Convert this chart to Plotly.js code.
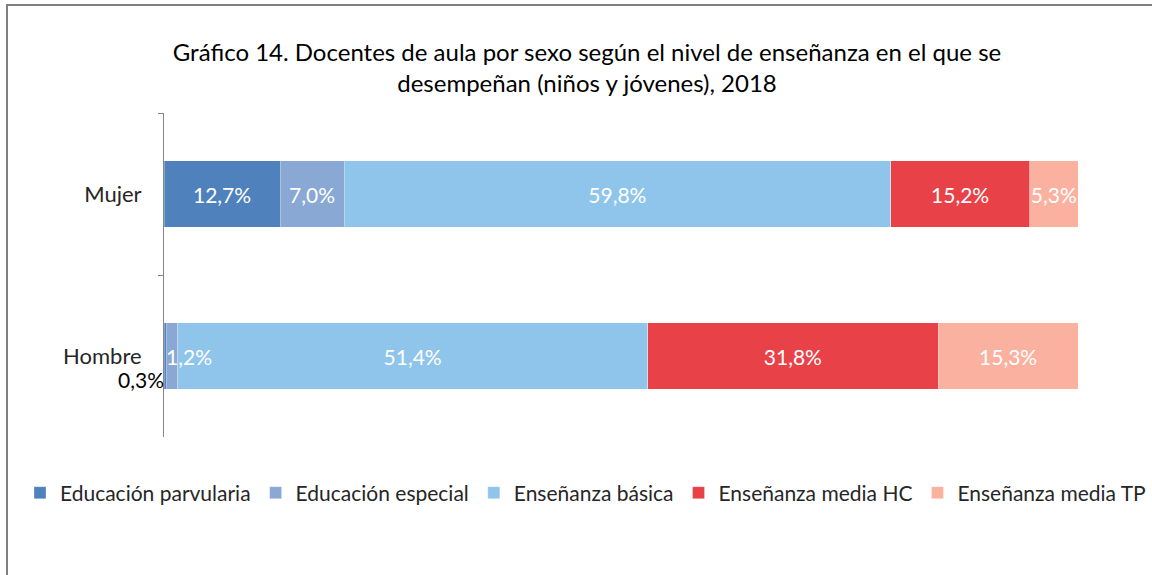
<!DOCTYPE html>
<html><head><meta charset="utf-8">
<script src="https://cdn.plot.ly/plotly-3.0.1.min.js"></script>
<style>html,body{margin:0;padding:0;background:#fff}#chart{width:1152px;height:575px}</style>
</head><body><div id="chart"></div>
<script>
const categories = ['Mujer', 'Hombre'];
const seriesNames = ['Educación parvularia', 'Educación especial', 'Enseñanza básica', 'Enseñanza media HC', 'Enseñanza media TP'];
const parvularia = [12.7, 0.3];
const especial = [7.0, 1.2];
const basica = [59.8, 51.4];
const mediaHC = [15.2, 31.8];
const mediaTP = [5.3, 15.3];
const colors = ['#4F81BD', '#89A8D4', '#8FC5EA', '#E84248', '#FBB19F'];
const seriesValues = [parvularia, especial, basica, mediaHC, mediaTP];

const FONT = 'Lato, "Open Sans", sans-serif';
const fmt = v => v.toFixed(1).replace('.', ',') + '%';
const smallLimit = 2;

const traces = seriesValues.map((vals, i) => ({
  type: 'bar', orientation: 'h', name: seriesNames[i],
  y: categories, x: vals,
  marker: {color: colors[i], line: {width: 0.5, color: 'rgba(255,255,255,0.6)'}},
  text: vals.map(v => v < smallLimit ? '' : fmt(v)),
  textposition: 'inside', insidetextanchor: 'middle', constraintext: 'none', textangle: 0,
  textfont: {color: '#ffffff', size: 21, family: FONT},
  hoverinfo: 'x+name'
}));

const annotations = [];
categories.forEach((c, ci) => {
  let start = 0;
  seriesValues.forEach((vals, si) => {
    const v = vals[ci];
    if (v < smallLimit) {
      if (si === 0) {
        annotations.push({x: 0, y: c, xref: 'x', yref: 'y', text: fmt(v), showarrow: false,
          xanchor: 'right', yshift: -23, xshift: 2, font: {color: '#000', size: 21, family: FONT}});
      } else {
        annotations.push({x: start, y: c, xref: 'x', yref: 'y', text: fmt(v), showarrow: false,
          xanchor: 'left', xshift: -3, font: {color: '#fff', size: 21, family: FONT}});
      }
    }
    start += v;
  });
});

const W = 1152, H = 575;
const L = 164, R = 0, T = 113, B = 138;
const barEnd = 1078;
const pw = W - L - R, ph = H - T - B;
const px = v => (v - L) / pw, py = v => (H - B - v) / ph;
const xMax = 100 * pw / (barEnd - L);

const layout = {
  width: W, height: H,
  margin: {l: L, r: R, t: T, b: B, pad: 0, autoexpand: false},
  paper_bgcolor: '#fff', plot_bgcolor: '#fff',
  barmode: 'stack', bargap: 0.59,
  font: {family: FONT, color: '#404040'},
  title: {text: 'Gráfico 14. Docentes de aula por sexo según el nivel de enseñanza en el que se<br>desempeñan (niños y jóvenes), 2018',
    font: {size: 24, color: '#000', family: FONT}, x: 587 / W, xref: 'container', xanchor: 'center',
    y: 1 - 61 / H, yref: 'container', yanchor: 'middle'},
  xaxis: {range: [0, xMax], visible: false, fixedrange: true},
  yaxis: {type: 'category', categoryorder: 'array', categoryarray: categories, autorange: 'reversed',
    showline: true, linecolor: '#868686', linewidth: 1, ticks: 'outside', ticklen: 5, tickcolor: '#868686',
    tickson: 'boundaries', showgrid: false, zeroline: false, ticklabelstandoff: 17,
    tickfont: {size: 22, color: '#262626', family: FONT}},
  showlegend: true,
  legend: {orientation: 'h', x: px(20), xanchor: 'left', y: py(493), yanchor: 'middle',
    font: {size: 21, color: '#262626', family: FONT}, itemwidth: 30, traceorder: 'normal', tracegroupgap: 0},
  annotations: annotations,
  shapes: [{type: 'rect', xref: 'paper', yref: 'paper', x0: px(7), x1: px(1170), y0: py(600), y1: py(5),
    line: {color: '#7f7f7f', width: 2}, fillcolor: 'rgba(0,0,0,0)', layer: 'above'}]
};

Plotly.newPlot('chart', traces, layout, {displayModeBar: false, staticPlot: true});
</script></body></html>
